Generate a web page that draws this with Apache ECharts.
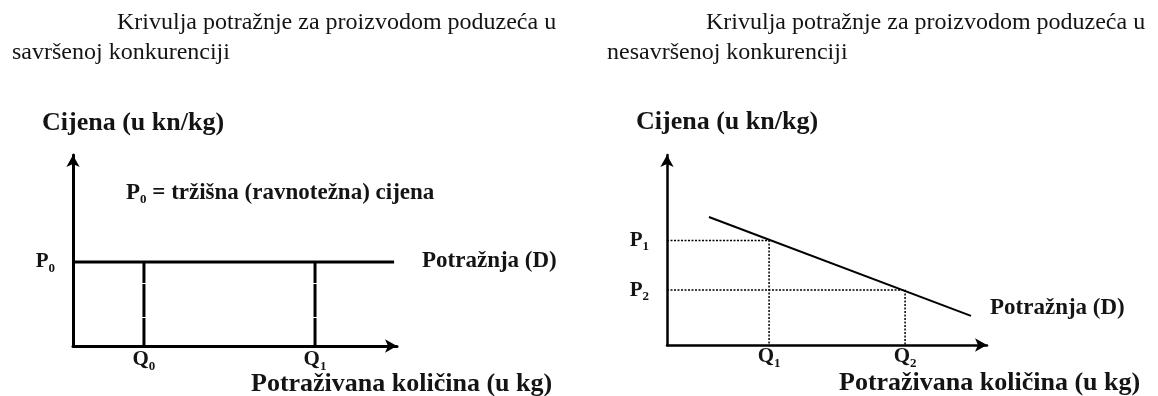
<!DOCTYPE html>
<html>
<head>
<meta charset="utf-8">
<script src="https://cdn.jsdelivr.net/npm/echarts@6/dist/echarts.min.js"></script>
<style>
  html, body { margin: 0; background: #fff; }
  #main { width: 1158px; height: 396px; }
</style>
</head>
<body>
<div id="main"></div>
<script>
// lijevi graf - savrsena konkurencija (jedinice 0..100 na obje osi)
var leftPrice = [44]              // P0
var leftQty = [21.9, 74.7]        // Q0, Q1
var leftDemandX = [0, 99.1]       // vodoravna krivulja potraznje
var leftTicksY = ['P0']
var leftTicksX = ['Q0', 'Q1']

// desni graf - nesavrsena konkurencija
var rightDemandX = [13.1, 95]
var rightDemandY = [67.4, 15.3]
var rightPrice = [55, 28.9]       // P1, P2
var rightQty = [31.9, 74.4]       // Q1, Q2
var rightTicksY = ['P1', 'P2']
var rightTicksX = ['Q1', 'Q2']

var serif = '"Liberation Serif", "Times New Roman", serif'
var ink = '#141414'

// 'P0' -> P s indeksom
function sub(s) {
  return s.replace(/^(\D+)(\d+)$/, '{b|$1}{s|$2}')
}
var richLbl = {
  b: { fontFamily: serif, fontWeight: 'bold', fontSize: 21, color: ink },
  s: { fontFamily: serif, fontWeight: 'bold', fontSize: 13, color: ink, padding: [13, 0, 0, 0] }
}

function axisBase(w) {
  return {
    type: 'value', min: 0, max: 100,
    splitLine: { show: false },
    axisTick: { show: false },
    axisLine: {
      show: true,
      symbol: ['none', 'arrow'],
      symbolSize: [10, 12],
      lineStyle: { color: '#000', width: w }
    }
  }
}

function tickAxis(w, values, names, margin) {
  var a = axisBase(w)
  a.axisLabel = {
    customValues: values,
    margin: margin,
    formatter: function (v) {
      var i = values.indexOf(v)
      return i < 0 ? '' : sub(names[i])
    },
    rich: richLbl
  }
  return a
}

var series = []
// lijevo: potraznja P0
series.push({
  type: 'line', xAxisIndex: 0, yAxisIndex: 0, symbol: 'none',
  data: [[leftDemandX[0], leftPrice[0]], [leftDemandX[1], leftPrice[0]]],
  lineStyle: { color: '#000', width: 3 }
})
leftQty.forEach(function (q) {
  series.push({
    type: 'line', xAxisIndex: 0, yAxisIndex: 0, symbol: 'none',
    data: [[q, leftPrice[0]], [q, 0]],
    lineStyle: { color: '#000', width: 3, type: [21, 1, 33, 1, 200] }
  })
})
// desno: padajuca krivulja potraznje
series.push({
  type: 'line', xAxisIndex: 1, yAxisIndex: 1, symbol: 'none',
  data: [[rightDemandX[0], rightDemandY[0]], [rightDemandX[1], rightDemandY[1]]],
  lineStyle: { color: '#000', width: 2 }
})
rightQty.forEach(function (q, i) {
  series.push({
    type: 'line', xAxisIndex: 1, yAxisIndex: 1, symbol: 'none',
    data: [[0, rightPrice[i]], [q, rightPrice[i]], [q, 0]],
    lineStyle: { color: '#000', width: 1.5, type: [2, 1.5] }
  })
})

function txt(x, y, text, font) {
  return {
    type: 'text', x: x, y: y, silent: true,
    style: { text: text, font: font, fill: ink, verticalAlign: 'middle', align: 'left' }
  }
}
var titleFont = '24px ' + serif
var boldFont = 'bold 26px ' + serif
var dFont = 'bold 23px ' + serif

var myChart = echarts.init(document.getElementById('main'))
var option = {
  animation: false,
  backgroundColor: '#fff',
  grid: [
    { left: 73, top: 155, width: 324, height: 191 },
    { left: 667, top: 155, width: 320, height: 190 }
  ],
  xAxis: [
    tickAxis(3, leftQty, leftTicksX, 1),
    Object.assign(tickAxis(2.5, rightQty, rightTicksX, -1), { gridIndex: 1 })
  ],
  yAxis: [
    tickAxis(3, leftPrice, leftTicksY, 18),
    Object.assign(tickAxis(2.5, rightPrice, rightTicksY, 18), { gridIndex: 1 })
  ],
  series: series,
  graphic: [
    txt(117, 23, 'Krivulja potražnje za proizvodom poduzeća u', titleFont),
    txt(12, 53, 'savršenoj konkurenciji', titleFont),
    txt(706, 23, 'Krivulja potražnje za proizvodom poduzeća u', titleFont),
    txt(607, 53, 'nesavršenoj konkurenciji', titleFont),
    txt(42, 123, 'Cijena (u kn/kg)', boldFont),
    txt(636, 122, 'Cijena (u kn/kg)', boldFont),
    txt(251, 384, 'Potraživana količina (u kg)', boldFont),
    txt(839, 383, 'Potraživana količina (u kg)', boldFont),
    txt(422, 261, 'Potražnja (D)', dFont),
    txt(990, 308, 'Potražnja (D)', dFont),
    {
      type: 'text', x: 126, y: 193, silent: true,
      style: {
        text: '{b|P}{s|0}{b| = tržišna (ravnotežna) cijena}',
        verticalAlign: 'middle', align: 'left',
        rich: {
          b: { fontFamily: serif, fontWeight: 'bold', fontSize: 23, fill: ink },
          s: { fontFamily: serif, fontWeight: 'bold', fontSize: 13, fill: ink, padding: [14, 0, 0, 0] }
        }
      }
    }
  ]
}
myChart.setOption(option)
</script>
</body>
</html>
